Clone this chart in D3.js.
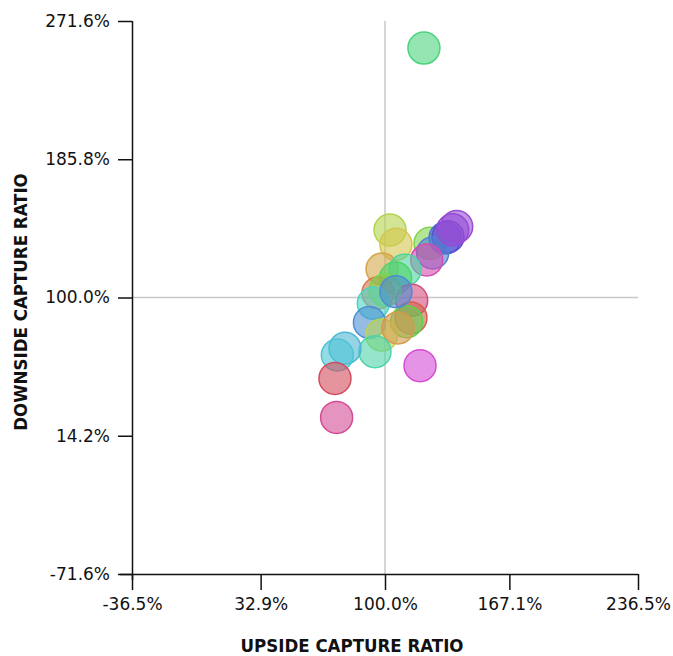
<!DOCTYPE html>
<html>
<head>
<meta charset="utf-8">
<script src="https://cdn.jsdelivr.net/npm/d3@7"></script>
<style>
  html, body { margin: 0; padding: 0; background: #fff; }
  svg { display: block; }
  .tick text { font-family: "DejaVu Sans", sans-serif; font-size: 17px; fill: #111; }
  .title { font-family: "DejaVu Sans Condensed", "DejaVu Sans", sans-serif; font-weight: bold; font-size: 18.5px; fill: #111; }
</style>
</head>
<body>
<svg id="chart" width="673" height="656"></svg>
<script>
// Upside capture ratio (%)
const upside = [121.0, 102.7, 105.9, 124.3, 132.4, 134.0, 138.7, 125.7, 122.5, 98.4, 110.8, 105.7, 114.4, 96.2, 100.0, 93.7, 91.6, 114.0, 111.7, 98.2, 107.0, 94.6, 78.4, 74.3, 73.0, 73.9, 118.9, 105.9, 136.5];
// Downside capture ratio (%)
const downside = [254.8, 141.9, 133.0, 133.6, 136.9, 137.7, 144.0, 127.6, 123.3, 117.7, 117.1, 112.1, 98.3, 102.8, 104.6, 96.4, 84.5, 87.3, 85.0, 76.7, 81.1, 66.4, 68.5, 64.3, 49.8, 25.6, 57.7, 103.6, 142.0];
const colors = ["#4cd37e", "#b2d44c", "#d4c64c", "#80d44c", "#4c6ed4", "#5a4cd4", "#9a4cd4", "#4c82d4", "#d44cb0", "#d4a64c", "#4cd4a2", "#4cd468", "#d44c7e", "#d4784c", "#7ad44c", "#4cd4c4", "#4c90d4", "#d4604c", "#5ad44c", "#bcd44c", "#d49a4c", "#4cd4aa", "#4cb8d4", "#4cc4d4", "#d44c5e", "#d44c94", "#d44cd4", "#4c8cd4", "#944cd4"];
const xTicks = [-36.5, 32.9, 100.0, 167.1, 236.5];
const yTicks = [-71.6, 14.2, 100.0, 185.8, 271.6];

const svg = d3.select("#chart");
const x = d3.scaleLinear().domain([-36.5, 236.5]).range([132, 638]);
const y = d3.scaleLinear().domain([-71.6, 271.6]).range([574, 21]);

// reference lines
svg.append("line").attr("x1", x(100)).attr("x2", x(100)).attr("y1", y(271.6)).attr("y2", y(-71.6))
  .attr("stroke", "#c8c8c8").attr("stroke-width", 1.5);
svg.append("line").attr("x1", x(-36.5)).attr("x2", x(236.5)).attr("y1", y(100)).attr("y2", y(100))
  .attr("stroke", "#c8c8c8").attr("stroke-width", 1.5);

// axes
const xAxis = svg.append("g").attr("transform", `translate(0,${y(-71.6)})`)
  .call(d3.axisBottom(x).tickValues(xTicks).tickFormat(d => d.toFixed(1) + "%").tickSize(16).tickPadding(8).tickSizeOuter(0));
const yAxis = svg.append("g").attr("transform", `translate(${x(-36.5)},0)`)
  .call(d3.axisLeft(y).tickValues(yTicks).tickFormat(d => d.toFixed(1) + "%").tickSize(14).tickPadding(8).tickSizeOuter(0));
[xAxis, yAxis].forEach(g => {
  g.selectAll("path.domain").attr("stroke", "#111").attr("stroke-width", 1.5);
  g.selectAll(".tick line").attr("stroke", "#111").attr("stroke-width", 1.5);
});
xAxis.select("path.domain").attr("d", `M${x(-36.5) - 12},0.5H${x(236.5)}`);
yAxis.select("path.domain").attr("d", `M0.5,${y(271.6)}V${y(-71.6) + 6}`);

// points
const data = upside.map((u, i) => ({ u, d: downside[i], c: colors[i] }));
svg.append("g").selectAll("circle").data(data).join("circle")
  .attr("cx", d => x(d.u)).attr("cy", d => y(d.d)).attr("r", 16)
  .attr("fill", d => d.c).attr("fill-opacity", 0.6)
  .attr("stroke", d => d.c).attr("stroke-width", 1.5);

// titles
svg.append("text").attr("class", "title").attr("x", 352).attr("y", 652)
  .attr("text-anchor", "middle").text("UPSIDE CAPTURE RATIO");
svg.append("text").attr("class", "title")
  .attr("transform", "translate(27,302) rotate(-90)")
  .attr("text-anchor", "middle").text("DOWNSIDE CAPTURE RATIO");
</script>
</body>
</html>
